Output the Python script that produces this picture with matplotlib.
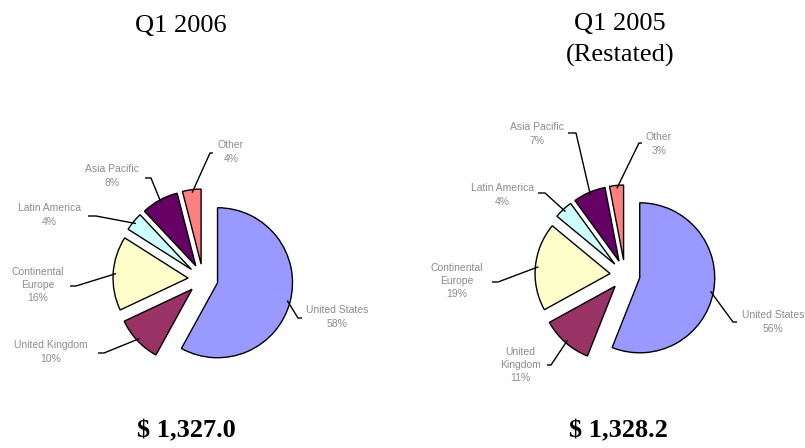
import numpy as np
import matplotlib.pyplot as plt

# revenue split by region, percent of quarter total
regions = ['United States', 'United Kingdom', 'Continental Europe',
           'Latin America', 'Asia Pacific', 'Other']
share_2006 = [58, 10, 16, 4, 8, 4]
share_2005 = [56, 11, 19, 4, 7, 3]
totals = [1327.0, 1328.2]
titles = ['Q1 2006', 'Q1 2005\n(Restated)']

# how each region name is wrapped in the two charts
names_2006 = ['United States', 'United Kingdom', 'Continental\nEurope',
              'Latin America', 'Asia Pacific', 'Other']
names_2005 = ['United States', 'United\nKingdom', 'Continental\nEurope',
              'Latin America', 'Asia Pacific', 'Other']

colors = ['#9999FF', '#993366', '#FFFFCC', '#CCFFFF', '#660066', '#FF8080']

W, H = 805, 448


def py(y):
    # pixel rows from the top -> axis units from the bottom
    return H - y


# label layout: text centre, leader start, elbow length
layout_2006 = [
    ((337, 317), (302, 318), -4),
    ((51, 352), (98, 353), 6),
    ((38, 285), (70, 286), 6),
    ((49, 215), (88, 216), 8),
    ((112, 176), (145, 178), 6),
    ((231, 152), (213, 153), -3),
]
layout_2005 = [
    ((773, 322), (737, 322), -4),
    ((520, 365), (547, 365), 4),
    ((457, 281), (492, 282), 6),
    ((502, 195), (538, 193), 7),
    ((537, 134), (568, 133), 8),
    ((659, 144), (642, 143), -3),
]

pies = [
    dict(values=share_2006, names=names_2006, layout=layout_2006,
         center=(203, 279), title_xy=(181, 26), total_xy=(186, 431)),
    dict(values=share_2005, names=names_2005, layout=layout_2005,
         center=(625, 275), title_xy=(620, 40), total_xy=(618, 431)),
]

fig = plt.figure(figsize=(W / 100, H / 100), dpi=100)
ax = fig.add_axes([0, 0, 1, 1])

radius = 75
offset = 15  # explode distance, same units as the radius
for p, title, total in zip(pies, titles, totals):
    cx, cy = p['center']
    wedges, _ = ax.pie(p['values'], colors=colors, startangle=90,
                       counterclock=False, radius=radius,
                       center=(cx, py(cy)), explode=[offset] * len(p['values']),
                       wedgeprops=dict(edgecolor='black', linewidth=1.0),
                       frame=True)

    for w, name, v, (txy, lxy, ex) in zip(wedges, p['names'], p['values'], p['layout']):
        mid = np.deg2rad((w.theta1 + w.theta2) / 2)
        wx, wy = w.center
        anchor = (wx + 0.96 * w.r * np.cos(mid), wy + 0.96 * w.r * np.sin(mid))
        xs = [lxy[0], lxy[0] + ex, anchor[0]]
        ys = [py(lxy[1]), py(lxy[1]), anchor[1]]
        ax.plot(xs, ys, color='black', lw=1.0, solid_capstyle='butt')
        ax.text(txy[0], py(txy[1]), f'{name}\n{v}%', ha='center', va='center',
                fontsize=7.5, color='#8c8c8c', family='Liberation Sans',
                linespacing=1.4)

    ax.text(p['title_xy'][0], py(p['title_xy'][1]), title, ha='center', va='center',
            fontsize=19, family='Liberation Serif', linespacing=1.45)
    ax.text(p['total_xy'][0], py(p['total_xy'][1]), f'$ {total:,.1f}', ha='center',
            va='center', fontsize=19, fontweight='bold', family='Liberation Serif')

ax.set_xlim(0, W)
ax.set_ylim(0, H)
ax.set_aspect('equal')
ax.axis('off')

fig.savefig('out.png', dpi=100, facecolor='white')
